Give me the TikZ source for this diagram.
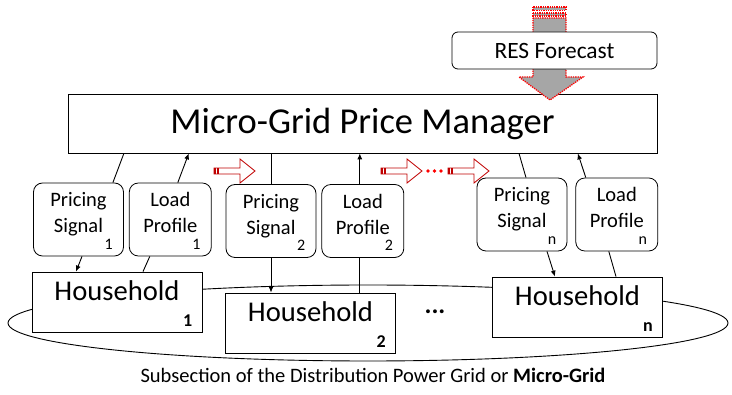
\documentclass[tikz,border=0pt]{standalone}
\usepackage{fontspec}
\setmainfont{Carlito}
\usetikzlibrary{arrows.meta, positioning, calc}
\definecolor{fcgray}{HTML}{A6A6A6}
\definecolor{darkred}{HTML}{C00000}

\begin{document}
\begin{tikzpicture}[
    x=1pt, y=-1pt,
    every node/.style={font=\fontsize{20.5}{26}\selectfont},
    box/.style={draw, line width=0.8pt, fill=white, inner sep=0pt},
    sigbox/.style={
        box, rounded corners=9pt, minimum width=90pt, minimum height=73pt,
        label={[align=center, anchor=north, inner sep=0pt, yshift=-6pt]north:{\strut #1}}
    },
    hhbox/.style={
        box, minimum width=170pt, minimum height=60pt,
        label={[font=\fontsize{28.6}{34}\selectfont, anchor=base, inner sep=0pt,
                yshift=-29pt]north:Household}
    },
    idx/.style={label={[font=\fontsize{16}{19}\selectfont, anchor=south east,
                inner sep=0pt, xshift=-11pt, yshift=7pt]south east:#1}},
    hhidx/.style={label={[font=\fontsize{18}{21}\selectfont\bfseries, anchor=south east,
                inner sep=0pt, xshift=-10pt, yshift=6pt]south east:#1}},
    link/.style={line width=0.9pt},
    flow/.style={link, -{Latex[length=6pt, width=5pt]}},
    fcarrow/.style={fill=fcgray, draw=red, densely dotted, line width=1.3pt},
    fwdarrow/.pic={
        \draw[darkred, fill=white, line width=0.8pt]
            (0,-3) -- (26,-3) -- (26,-12) -- (41,0) -- (26,12) -- (26,3) -- (0,3) -- cycle;
        \fill[darkred] (0,-3) rectangle (2,3);
        \fill[darkred] (3,-3) rectangle (4.5,3);
    },
]
\useasboundingbox (0,0) rectangle (732,395);

% ===== Micro-grid region =====
\draw[link] (368,323) ellipse [x radius=360, y radius=38];

% ===== Households =====
\node[hhbox, hhidx=1] (hh1) at (117,302) {};
\node[hhbox, hhidx=2] (hh2) at (310.5,323) {};
\node[hhbox, hhidx=n] (hhn) at (577.5,307) {};
\node[font=\fontsize{26}{30}\selectfont\bfseries] (dots) at (435,312) {...};

% ===== Signal / profile boxes =====
\node[sigbox={Pricing\\Signal}, idx=1] (ps1) at (78.5,219.5) {};
\node[sigbox={Load\\Profile}, idx=1, minimum width=82pt, right=5pt of ps1] (lp1) {};

\node[sigbox={Pricing\\Signal}, idx=2] (ps2) at (271,221) {};
\node[sigbox={Load\\Profile}, idx=2, minimum width=82pt, right=5pt of ps2] (lp2) {};

\node[sigbox={Pricing\\Signal}, idx=n] (psn) at (522,214.5) {};
\node[sigbox={Load\\Profile}, idx=n, minimum width=82pt, right=8pt of psn] (lpn) {};

% ===== Manager and forecast =====
\node[box, minimum width=589pt, minimum height=59pt,
      font=\fontsize{36.5}{40}\selectfont] (mgr) at (362.5,123.5) {Micro-Grid Price Manager};

% forecast feeds the manager (block arrow behind the box)
\draw[fcarrow] (533,18) -- (566,18) -- (566,77) -- (583,77) -- (550,100)
    -- (519,77) -- (533,77) -- cycle;
\draw[fcarrow] (533,7) rectangle (566,10.5);
\draw[fcarrow] (533,13) rectangle (566,16);

\node[box, rounded corners=6pt, minimum width=205pt, minimum height=37pt,
      font=\fontsize{23.4}{28}\selectfont] (res) at (554.5,50.5) {RES Forecast};

% ===== Household 1 links =====
\draw[link] (mgr.south -| ps1.east) -- ([xshift=-11pt]ps1.north east);
\draw[flow] ([xshift=3.5pt]ps1.south) -- ([xshift=-41pt]hh1.north);
\draw[link] ([xshift=26pt]hh1.north) -- ([xshift=-20.5pt]lp1.south);
\draw[flow] ([xshift=7.5pt]lp1.north) -- ($(lp1.north |- mgr.south)+(18.5,0)$);

% ===== Household 2 links =====
\draw[link] (ps2.north |- mgr.south) -- (ps2.north);
\draw[flow] (ps2.south) -- (ps2.south |- hh2.north);
\draw[link] ($(lp2.south |- hh2.north)+(-3,0)$) -- ([xshift=-3pt]lp2.south);
\draw[flow] ([xshift=-3pt]lp2.north) -- ($(lp2.north |- mgr.south)+(-3,0)$);

% ===== Household n links =====
\draw[link] ($(psn.north |- mgr.south)+(-3,0)$) -- ([xshift=4pt]psn.north);
\draw[flow] ([xshift=25pt]psn.south) -- ([xshift=-22.5pt]hhn.north);
\draw[link] ([xshift=38.5pt]hhn.north) -- ([xshift=-8pt]lpn.south);
\draw[flow] ([xshift=-31pt]lpn.north) -- ($(lpn.north |- mgr.south)+(-39,0)$);

% ===== Sequence arrows =====
\pic at (214,171) {fwdarrow};
\pic at (381,171) {fwdarrow};
\pic at (448,171) {fwdarrow};
\foreach \x in {428,434.5,441}
    \fill[red] (\x,171) circle (1.8pt);

% ===== Caption =====
\node[anchor=base] (cap) at (373,383)
    {Subsection of the Distribution Power Grid or \textbf{Micro-Grid}};

\end{tikzpicture}
\end{document}
